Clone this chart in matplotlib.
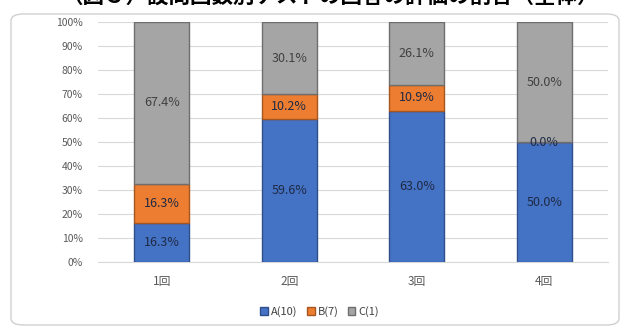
import matplotlib.pyplot as plt
import numpy as np
from matplotlib.patches import FancyBboxPatch

plt.rcParams['font.family'] = ['Noto Sans CJK JP', 'DejaVu Sans']

rounds = ['1回', '2回', '3回', '4回']
grade_a = [16.3, 59.6, 63.0, 50.0]
grade_b = [16.3, 10.2, 10.9, 0.0]
grade_c = [67.4, 30.1, 26.1, 50.0]
series_names = ['A(10)', 'B(7)', 'C(1)']
colors = ['#4472C4', '#ED7D31', '#A5A5A5']
edges = ['#2F4F8A', '#A5561F', '#6E6E6E']

fig = plt.figure(figsize=(6.24, 3.27), dpi=100)

# chart frame, behind the axes
frame = FancyBboxPatch((11/624, 2/327), 608/624, 311/327,
                       boxstyle='round,pad=0,rounding_size=0.02',
                       transform=fig.transFigure, facecolor='white',
                       edgecolor='#D0D0D0', linewidth=1.0, zorder=-5)
fig.patches.append(frame)

# title, cropped at the top like the source picture
fig.text(0.53, 1 - 7/327, '（図３）設問回数別テストの回答の評価の割合（全体）',
         ha='center', va='bottom', fontsize=15.5, fontweight='bold', color='black')

ax = fig.add_axes([98/624, 1 - 262/327, 510/624, 240/327])
ax.set_zorder(2)
ax.patch.set_alpha(0)
x = np.arange(len(rounds))
width = 0.43
bottom = np.zeros(len(rounds))
for vals, name, c, e in zip([grade_a, grade_b, grade_c], series_names, colors, edges):
    vals = np.array(vals)
    ax.bar(x, vals, width, bottom=bottom, color=c, edgecolor=e,
           linewidth=1.0, label=name, zorder=3)
    for xi, b, v in zip(x, bottom, vals):
        ax.text(xi, b + v / 2, f'{v:.1f}%', ha='center', va='center',
                fontsize=9, color='#1F2A44' if c != '#A5A5A5' else '#404040', zorder=4)
    bottom += vals

ax.set_xlim(-0.5, len(rounds) - 0.5)
ax.set_ylim(0, 100)
ax.set_yticks(np.arange(0, 101, 10))
ax.set_yticklabels([f'{v}%' for v in range(0, 101, 10)], fontsize=7.5, color='#595959')
ax.set_xticks(x)
ax.set_xticklabels(rounds, fontsize=8.5, color='#595959')
ax.tick_params(axis='y', length=0, pad=11)
ax.tick_params(axis='x', length=0, pad=9)
ax.yaxis.grid(True, color='#D9D9D9', linewidth=0.8, zorder=0)
for s in ['top', 'right', 'left']:
    ax.spines[s].set_visible(False)
ax.spines['bottom'].set_color('#D9D9D9')

ax.legend(loc='center', bbox_to_anchor=(0.435, -0.208), ncol=3, frameon=False,
          fontsize=8, handlelength=0.7, handleheight=0.7, handletextpad=0.3,
          columnspacing=0.8, labelcolor='#404040')

fig.savefig('out.png', dpi=100)
